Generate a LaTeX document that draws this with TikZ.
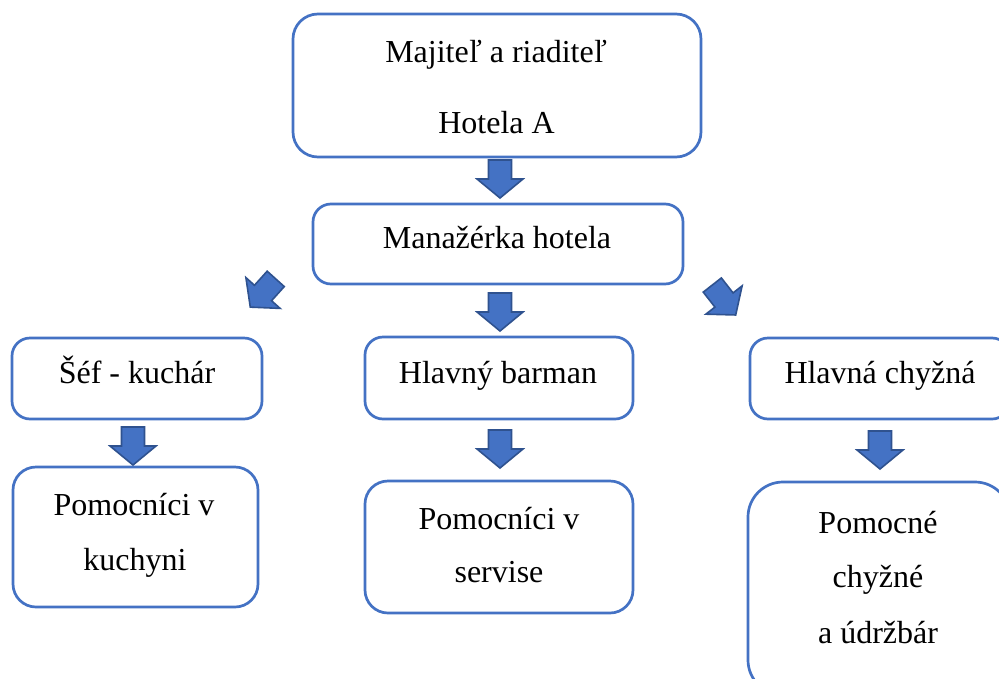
\documentclass[tikz,border=0pt]{standalone}
\usepackage{fontspec}
\setmainfont{Liberation Serif}
\definecolor{boxblue}{HTML}{4472C4}
\definecolor{arrowedge}{HTML}{2F528F}
\tikzset{
  orgbox/.style={draw=boxblue, line width=2.7pt, fill=white},
  lbl/.style={anchor=base, inner sep=0pt, font=\fontsize{32}{38}\selectfont},
  blockarrow/.pic={
    \path[fill=boxblue, draw=arrowedge, line width=1.6pt, line join=miter]
      (-11.5,-19) -- (11.5,-19) -- (11.5,0) -- (23,0) -- (0,19) -- (-23,0) -- (-11.5,0) -- cycle;
  }
}
\begin{document}
\begin{tikzpicture}[x=1pt,y=-1pt]
\clip (0,0) rectangle (999,678);
\fill[white] (0,0) rectangle (999,678);

% boxes
\draw[orgbox, rounded corners=25pt] (293,14) rectangle (701,157);
\node[inner sep=0pt] (top) at (497,85.5) {};
\draw[orgbox, rounded corners=18pt] (313,204) rectangle (683,284);
\node[inner sep=0pt] (man) at (498,244) {};
\draw[orgbox, rounded corners=18pt] (12,338) rectangle (262,419);
\node[inner sep=0pt] (sef) at (137,378.5) {};
\draw[orgbox, rounded corners=18pt] (365,337) rectangle (633,419);
\node[inner sep=0pt] (bar) at (499,378) {};
\draw[orgbox, rounded corners=18pt] (750,338) rectangle (1010,419);
\node[inner sep=0pt] (chy) at (880,378.5) {};
\draw[orgbox, rounded corners=23pt] (13,467) rectangle (258,607);
\node[inner sep=0pt] (kuch) at (135.5,537) {};
\draw[orgbox, rounded corners=23pt] (365,481) rectangle (633,613);
\node[inner sep=0pt] (serv) at (499,547) {};
\draw[orgbox, rounded corners=35pt] (748,482) rectangle (1010,695);
\node[inner sep=0pt] (pomc) at (879,588) {};

% texts
\node[lbl] (t1a) at (496,62) {Majiteľ a riaditeľ};
\node[lbl] (t1b) at (496.5,133) {Hotela A};
\node[lbl] (t2) at (497,248) {Manažérka hotela};
\node[lbl] (t3) at (137,383) {Šéf - kuchár};
\node[lbl] (t4) at (498,383) {Hlavný barman};
\node[lbl] (t5) at (880,383) {Hlavná chyžná};
\node[lbl] (t6a) at (134,515) {Pomocníci v};
\node[lbl] (t6b) at (135,570) {kuchyni};
\node[lbl] (t7a) at (499,529) {Pomocníci v};
\node[lbl] (t7b) at (499,582) {servise};
\node[lbl] (t8a) at (878,533) {Pomocné};
\node[lbl] (t8b) at (878,587) {chyžné};
\node[lbl] (t8c) at (878,643) {a údržbár};

% block arrows
\pic (a1) at (500,179) {blockarrow};
\pic (a2) at (500,312) {blockarrow};
\pic[rotate=-42] (a3) at (263,293) {blockarrow};
\pic[rotate=38] (a4) at (724,300) {blockarrow};
\pic (a5) at (133,446) {blockarrow};
\pic (a6) at (500,449) {blockarrow};
\pic (a7) at (880,450) {blockarrow};
\end{tikzpicture}
\end{document}
